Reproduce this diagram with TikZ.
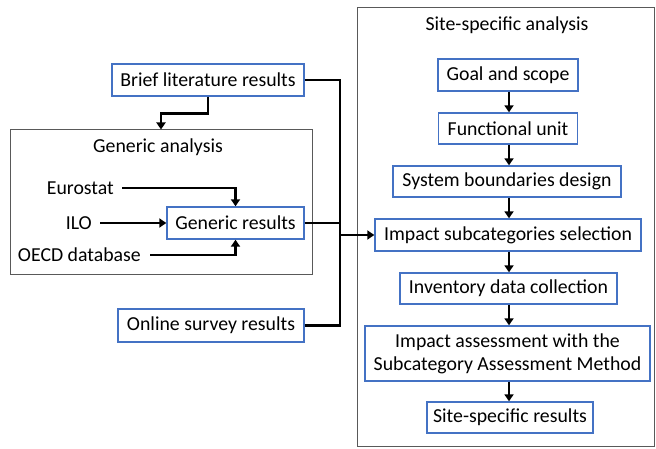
\documentclass[tikz,border=0pt]{standalone}
\usepackage{fontspec}
\setmainfont{Carlito}
\usetikzlibrary{arrows.meta}
\definecolor{boxblue}{RGB}{68,114,196}
\begin{document}
\begin{tikzpicture}[x=1pt,y=-1pt,
  font=\fontsize{19.8}{23}\selectfont,
  bbox/.style={draw=boxblue,line width=1.4pt,fill=white,inner sep=0pt,align=center},
  grp/.style={draw=black!65,line width=1pt,inner sep=0pt},
  lbl/.style={inner sep=0pt},
  conn/.style={line width=2.6pt},
  arr/.style={conn,-{Triangle[length=7pt,width=9pt]}}]
\useasboundingbox (0,0) rectangle (656,449);
% groups
\node[grp,minimum width=302pt,minimum height=144pt] (genbox) at (161,202) {};
\node[grp,minimum width=297pt,minimum height=439pt] (sitebox) at (505.5,227) {};
\node[lbl] (gentitle) at (158,147) {Generic analysis};
\node[lbl] (sitetitle) at (507,25) {Site-specific analysis};
% left nodes
\node[bbox,minimum width=192pt,minimum height=32pt] (brief) at (208,80) {Brief literature results};
\node[bbox,minimum width=137pt,minimum height=32pt] (genres) at (235.5,223) {Generic results};
\node[bbox,minimum width=186pt,minimum height=33pt] (online) at (211,325.5) {Online survey results};
\node[lbl,anchor=east] (euro) at (114,188) {Eurostat};
\node[lbl,anchor=east] (ilo) at (92,223) {ILO};
\node[lbl,anchor=east] (oecd) at (141,255) {OECD database};
% right nodes
\node[bbox,minimum width=140pt,minimum height=32pt] (goal) at (508,75) {Goal and scope};
\node[bbox,minimum width=139pt,minimum height=31pt] (func) at (508,128.5) {Functional unit};
\node[bbox,minimum width=228pt,minimum height=31pt] (sys) at (507,181.5) {System boundaries design};
\node[bbox,minimum width=266pt,minimum height=32pt] (imp) at (508,235) {Impact subcategories selection};
\node[bbox,minimum width=217pt,minimum height=31pt] (inv) at (508.5,288.5) {Inventory data collection};
\node[bbox,minimum width=285pt,minimum height=55pt] (ia) at (507.5,353.5) {Impact assessment with the\\Subcategory Assessment Method};
\node[bbox,minimum width=166pt,minimum height=31pt] (ssr) at (510,417.5) {Site-specific results};
\coordinate (J) at (340,235);
\coordinate (ax) at (509,0);
% connectors left
\draw[arr] (brief.south) -- ++(0,17) -| (genbox.north);
\draw[arr] ([xshift=8pt]euro.east) -| (genres.north);
\draw[arr] ([xshift=8pt]ilo.east) -- (genres.west);
\draw[arr] ([xshift=9pt]oecd.east) -| (genres.south);
\draw[conn] (brief.east) -| (J);
\draw[conn] (online.east) -| (J);
\draw[conn] (genres.east) -- (genres.east -| J);
\draw[arr] (J) -- (imp.west);
% connectors right
\draw[arr] (ax |- goal.south) -- (ax |- func.north);
\draw[arr] (ax |- func.south) -- (ax |- sys.north);
\draw[arr] (ax |- sys.south) -- (ax |- imp.north);
\draw[arr] (ax |- imp.south) -- (ax |- inv.north);
\draw[arr] (ax |- inv.south) -- (ax |- ia.north);
\draw[arr] (ax |- ia.south) -- (ax |- ssr.north);
\end{tikzpicture}
\end{document}
